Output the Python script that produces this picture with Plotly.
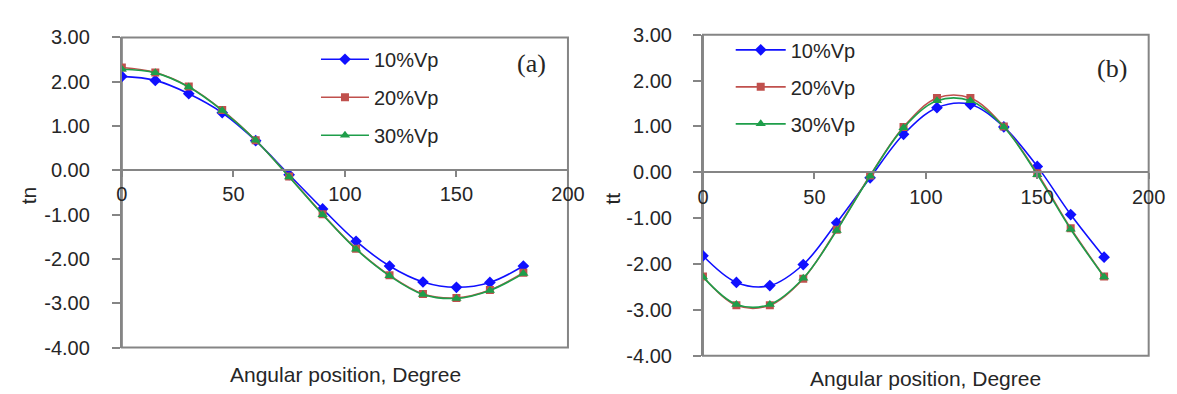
import plotly.graph_objects as go

angles = [0, 15, 30, 45, 60, 75, 90, 105, 120, 135, 150, 165, 180]
series_names = ["10%Vp", "20%Vp", "30%Vp"]

tn_10 = [2.12, 2.03, 1.73, 1.30, 0.67, -0.10, -0.87, -1.60, -2.16, -2.52, -2.64, -2.53, -2.16]
tn_20 = [2.32, 2.21, 1.89, 1.36, 0.68, -0.14, -0.99, -1.77, -2.37, -2.79, -2.88, -2.70, -2.31]
tn_30 = [2.28, 2.20, 1.88, 1.35, 0.68, -0.15, -1.00, -1.78, -2.38, -2.80, -2.89, -2.71, -2.33]

tt_10 = [-1.82, -2.40, -2.47, -2.01, -1.10, -0.12, 0.83, 1.41, 1.48, 0.99, 0.13, -0.92, -1.85]
tt_20 = [-2.27, -2.90, -2.90, -2.32, -1.25, -0.07, 0.99, 1.62, 1.62, 1.00, -0.02, -1.22, -2.27]
tt_30 = [-2.28, -2.88, -2.88, -2.31, -1.27, -0.08, 0.97, 1.56, 1.56, 0.99, -0.05, -1.24, -2.28]

y_ticks = [-4, -3, -2, -1, 0, 1, 2, 3]
y_tick_text = ["-4.00", "-3.00", "-2.00", "-1.00", "0.00", "1.00", "2.00", "3.00"]
x_ticks = [0, 50, 100, 150, 200]
x_range = [0, 200]
y_range = [-4, 3]

colors = ["#1010FF", "#C0504D", "#1E9E4A"]
symbols = ["diamond", "square", "triangle-up"]
msizes = [9, 8, 9]

FONT = "Liberation Sans, Arial, sans-serif"
TXT = "#262626"
GRAY = "#858585"

W, H = 1177, 394
fig = go.Figure()

panels = [
    dict(xa="x", ya="y", data=[tn_10, tn_20, tn_30], legend="legend"),
    dict(xa="x2", ya="y2", data=[tt_10, tt_20, tt_30], legend="legend2"),
]
for p in panels:
    for i, (name, vals) in enumerate(zip(series_names, p["data"])):
        fig.add_trace(go.Scatter(
            x=angles, y=vals, name=name, mode="lines+markers",
            xaxis=p["xa"], yaxis=p["ya"], legend=p["legend"],
            legendgroup=p["legend"] + name,
            line=dict(color=colors[i], width=1.6, shape="spline"),
            marker=dict(symbol=symbols[i], size=msizes[i], color=colors[i]),
        ))

# domains (paper fractions)
xd1 = [110 / W, 565 / W]
yd1 = [1 - 348 / H, 1 - 19.5 / H]
xd2 = [702.7 / W, 1157.3 / W]
yd2 = [1 - 356.7 / H, 1 - 16.7 / H]

def zero_pos(yd):
    return yd[0] + (0 - y_range[0]) / (y_range[1] - y_range[0]) * (yd[1] - yd[0])

def xaxis(dom, yd, standoff):
    return dict(domain=dom, range=x_range, anchor="free", position=zero_pos(yd),
                tickvals=x_ticks, ticks="outside", ticklen=6, tickcolor=GRAY, tickwidth=1.5,
                showline=True, linecolor=GRAY, linewidth=1.5, showgrid=False, zeroline=False,
                ticklabelstandoff=standoff,
                tickfont=dict(family=FONT, size=20, color=TXT))

def yaxis(dom, anchor, standoff):
    return dict(domain=dom, range=y_range, anchor=anchor, tickvals=y_ticks, ticktext=y_tick_text,
                ticks="outside", ticklen=8, tickcolor=GRAY, tickwidth=1.5,
                showline=True, linecolor=GRAY, linewidth=2, showgrid=False, zeroline=False,
                ticklabelstandoff=standoff,
                tickfont=dict(family=FONT, size=20, color=TXT))

fig.update_layout(
    width=W, height=H,
    margin=dict(l=0, r=0, t=0, b=0),
    paper_bgcolor="white", plot_bgcolor="white",
    xaxis=xaxis(xd1, yd1, 0),
    yaxis=yaxis(yd1, "x", 18),
    xaxis2=xaxis(xd2, yd2, 1),
    yaxis2=yaxis(yd2, "x2", 17),
    legend=dict(x=308 / W, y=1 - 22 / H, xanchor="left", yanchor="top",
                traceorder="grouped", tracegroupgap=9, itemwidth=48,
                bgcolor="rgba(0,0,0,0)",
                font=dict(family=FONT, size=20, color=TXT)),
    legend2=dict(x=731 / W, y=1 - 12 / H, xanchor="left", yanchor="top",
                 traceorder="grouped", tracegroupgap=8, itemwidth=50,
                 bgcolor="rgba(0,0,0,0)",
                 font=dict(family=FONT, size=20, color=TXT)),
    showlegend=True,
)

for xr, yr in [("x domain", "y domain"), ("x2 domain", "y2 domain")]:
    fig.add_shape(type="rect", xref=xr, yref=yr, x0=0, x1=1, y0=0, y1=1,
                  line=dict(color=GRAY, width=2), layer="below")

annos = [
    dict(text="tn", x=15 / W, y=1 - 187 / H, textangle=-90),
    dict(text="tt", x=610 / W, y=1 - 190 / H, textangle=-90),
    dict(text="Angular position, Degree", x=338 / W, y=1 - 377 / H),
    dict(text="Angular position, Degree", x=930 / W, y=1 - 381 / H),
]
for a in annos:
    fig.add_annotation(xref="paper", yref="paper", showarrow=False,
                       xanchor="center", yanchor="middle",
                       font=dict(family=FONT, size=21, color=TXT), **a)

for txt, xx, yy in [("(a)", 528, 47), ("(b)", 1120, 52)]:
    fig.add_annotation(xref="paper", yref="paper", x=xx / W, y=1 - yy / H, text=txt,
                       showarrow=False, xanchor="center", yanchor="middle",
                       font=dict(family="Liberation Serif, Times New Roman, serif", size=26, color=TXT))

fig.write_html("out.html")
